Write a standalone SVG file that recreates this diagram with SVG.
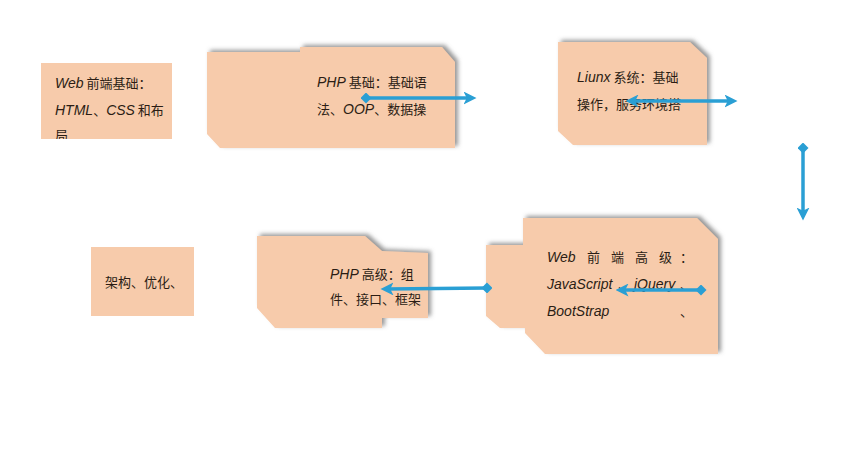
<svg xmlns="http://www.w3.org/2000/svg" width="844" height="456" viewBox="0 0 844 456">
<style>
.box{fill:#f7cbab}
.sh{filter:url(#shadow)}
text{font-family:"Noto Sans CJK SC","Liberation Sans",sans-serif;font-size:13px;fill:#2b1d14}
.lat{font-family:"Liberation Sans","Noto Sans CJK SC",sans-serif;font-style:italic;font-size:14px}
.conn{stroke:#2a9fd4;stroke-width:3.5;fill:none}
</style>
<defs>
<filter id="shadow" x="-10%" y="-15%" width="125%" height="130%">
<feDropShadow dx="3" dy="-2" stdDeviation="2" flood-color="#6d6d6d" flood-opacity="0.7"/>
</filter>
<marker id="arr" viewBox="0 0 12 12" refX="6" refY="6" markerWidth="13" markerHeight="13" markerUnits="userSpaceOnUse" orient="auto-start-reverse">
<path d="M0,0 L12,6 L0,12 L3,6 Z" fill="#2a9fd4"/>
</marker>
<marker id="dia" viewBox="0 0 12 12" refX="6" refY="6" markerWidth="11" markerHeight="11" markerUnits="userSpaceOnUse" orient="auto">
<path d="M0,6 L6,0 L12,6 L6,12 Z" fill="#2a9fd4"/>
</marker>
<clipPath id="c1"><rect x="41" y="63" width="131" height="76"/></clipPath>
</defs>
<rect width="844" height="456" fill="#ffffff"/>

<g id="node-web-basic">
<rect class="box" x="41" y="63" width="131" height="76"/>
<g clip-path="url(#c1)">
<text x="55" y="88"><tspan class="lat">Web</tspan> 前端基础：</text>
<text x="55" y="115"><tspan class="lat">HTML</tspan>、<tspan class="lat">CSS</tspan> 和布</text>
<text x="55" y="140">局</text>
</g>
</g>

<g id="node-php-basic">
<polygon class="box sh" points="207,52 300,52 300,47 442,47 455,62 455,148 220,148 207,134"/>
<text x="317" y="87"><tspan class="lat">PHP</tspan> 基础：基础语</text>
<text x="317" y="114">法、<tspan class="lat">OOP</tspan>、数据操</text>
</g>

<g id="node-linux">
<polygon class="box sh" points="558,42 690,42 707,58 707,145 573,145 558,131"/>
<text x="577" y="82"><tspan class="lat">Liunx</tspan> 系统：基础</text>
<text x="577" y="109">操作，服务环境搭</text>
</g>

<g id="node-web-adv">
<polygon class="box sh" points="486,245 523,245 523,218 697,218 718,239 718,354 545,354 525,333 525,328 500,328 486,316"/>
<text y="262"><tspan class="lat" x="547">Web</tspan><tspan x="587">前</tspan><tspan x="611">端</tspan><tspan x="635">高</tspan><tspan x="659">级</tspan><tspan x="680">：</tspan></text>
<text y="289"><tspan class="lat" x="547">JavaScript</tspan><tspan x="618">、</tspan><tspan class="lat" x="634">jQuery</tspan><tspan x="680">、</tspan></text>
<text y="316"><tspan class="lat" x="547">BootStrap</tspan><tspan x="680">、</tspan></text>
</g>

<g id="node-php-adv">
<polygon class="box sh" points="257,236 365,236 382,251 428,253 428,318 382,318 382,328 275,328 257,308"/>
<text x="330" y="279"><tspan class="lat">PHP</tspan> 高级：组</text>
<text x="330" y="304">件、接口、框架</text>
</g>

<g id="node-arch">
<rect class="box" x="91" y="247" width="103" height="69"/>
<text x="105" y="287">架构、优化、</text>
</g>

<g id="connectors">
<line class="conn" x1="366" y1="98" x2="470" y2="98" marker-start="url(#dia)" marker-end="url(#arr)"/>
<line class="conn" x1="632" y1="101" x2="731" y2="101" marker-start="url(#arr)" marker-end="url(#arr)"/>
<line class="conn" x1="803" y1="148" x2="803" y2="214" marker-start="url(#dia)" marker-end="url(#arr)"/>
<line class="conn" x1="487" y1="288" x2="387" y2="289" marker-start="url(#dia)" marker-end="url(#arr)"/>
<line class="conn" x1="701" y1="290" x2="622" y2="290" marker-start="url(#dia)" marker-end="url(#arr)"/>
</g>
</svg>
